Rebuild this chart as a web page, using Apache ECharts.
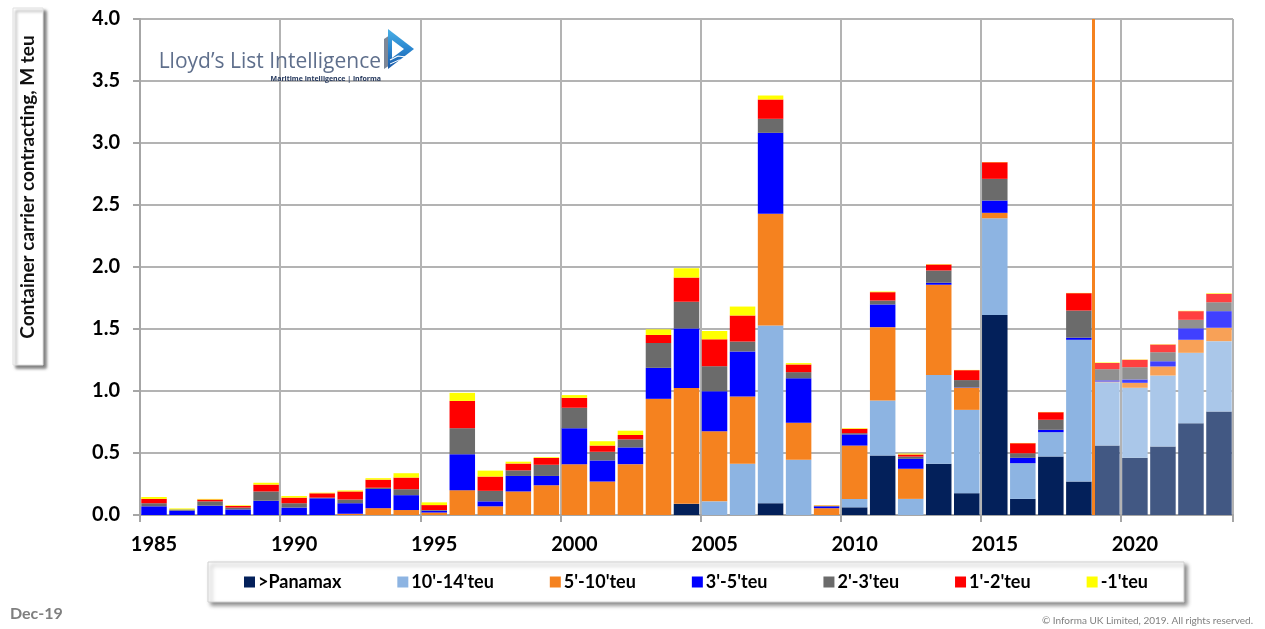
<!DOCTYPE html>
<html>
<head>
<meta charset="utf-8">
<script src="https://cdn.jsdelivr.net/npm/echarts@6/dist/echarts.min.js"></script>
<style>
  html, body { margin: 0; padding: 0; background: #fff; }
  #chart { width: 1265px; height: 629px; }
</style>
</head>
<body>
<div id="chart"></div>
<script>
// Container ship contracting by size band, million TEU
const years = [];
for (let y = 1985; y <= 2023; y++) years.push(String(y));

const firstForecastYear = '2019';

const panamax = [0, 0, 0, 0, 0, 0, 0, 0, 0, 0,
  0, 0, 0, 0, 0, 0, 0, 0, 0, 0.09,
  0, 0, 0.095, 0, 0, 0.062, 0.48, 0, 0.413, 0.176,
  1.613, 0.13, 0.472, 0.27, 0.56, 0.461, 0.552, 0.74, 0.835];

const teu10to14 = [0, 0, 0, 0, 0, 0, 0, 0, 0, 0,
  0, 0, 0, 0, 0, 0, 0, 0, 0, 0,
  0.11, 0.413, 1.433, 0.445, 0, 0.068, 0.443, 0.13, 0.717, 0.672,
  0.78, 0.288, 0.196, 1.143, 0.511, 0.565, 0.573, 0.568, 0.567];

const teu5to10 = [0, 0, 0, 0, 0, 0, 0, 0.01, 0.055, 0.04,
  0.02, 0.2, 0.07, 0.19, 0.24, 0.41, 0.27, 0.41, 0.937, 0.935,
  0.565, 0.543, 0.901, 0.299, 0.055, 0.43, 0.592, 0.243, 0.727, 0.178,
  0.044, 0, 0, 0, 0.005, 0.04, 0.073, 0.105, 0.108];

const teu3to5 = [0.07, 0.035, 0.075, 0.045, 0.115, 0.06, 0.135, 0.085, 0.155, 0.12,
  0.015, 0.29, 0.04, 0.125, 0.075, 0.29, 0.17, 0.135, 0.25, 0.48,
  0.323, 0.363, 0.653, 0.359, 0.015, 0.09, 0.183, 0.08, 0.016, 0.003,
  0.099, 0.043, 0.019, 0.017, 0.01, 0.027, 0.042, 0.093, 0.134];

const teu2to3 = [0.025, 0.01, 0.035, 0.015, 0.075, 0.035, 0.005, 0.03, 0.01, 0.048,
  0.005, 0.21, 0.085, 0.045, 0.09, 0.165, 0.07, 0.065, 0.2, 0.215,
  0.202, 0.08, 0.113, 0.049, 0.003, 0.01, 0.032, 0.018, 0.099, 0.059,
  0.175, 0.037, 0.081, 0.219, 0.09, 0.099, 0.073, 0.068, 0.072];

const teu1to2 = [0.035, 0, 0.015, 0.013, 0.055, 0.045, 0.035, 0.065, 0.065, 0.094,
  0.04, 0.22, 0.115, 0.055, 0.055, 0.08, 0.05, 0.035, 0.065, 0.195,
  0.217, 0.21, 0.156, 0.062, 0.003, 0.035, 0.067, 0.017, 0.048, 0.08,
  0.134, 0.081, 0.061, 0.14, 0.05, 0.06, 0.062, 0.07, 0.068];

const teuUnder1 = [0.015, 0.008, 0.005, 0.005, 0.015, 0.013, 0.005, 0.008, 0.012, 0.035,
  0.022, 0.065, 0.048, 0.015, 0.006, 0.022, 0.035, 0.035, 0.045, 0.075,
  0.067, 0.072, 0.032, 0.011, 0.003, 0.005, 0.005, 0.007, 0.003, 0.002,
  0.002, 0.002, 0.002, 0.002, 0.005, 0.003, 0.003, 0.003, 0.006];

const seriesNames = ['>Panamax', "10'-14'teu", "5'-10'teu", "3'-5'teu", "2'-3'teu", "1'-2'teu", "-1'teu"];
const seriesValues = [panamax, teu10to14, teu5to10, teu3to5, teu2to3, teu1to2, teuUnder1];
const seriesColors = ['#03205a', '#8db4e2', '#f5821f', '#0000ff', '#6b6b6b', '#ff0000', '#ffff00'];

const yTicks = [0, 0.5, 1, 1.5, 2, 2.5, 3, 3.5, 4];

const forecastIndex = years.indexOf(firstForecastYear);
const FONT = 'Lato, "Open Sans", sans-serif';

// outlook years are drawn in a washed-out tint of the band colour
function tint(hex, amount) {
  const n = parseInt(hex.slice(1), 16);
  const ch = [(n >> 16) & 255, (n >> 8) & 255, n & 255]
    .map(c => Math.round(c + (255 - c) * amount));
  return 'rgb(' + ch.join(',') + ')';
}

const barSeries = seriesNames.map((name, i) => ({
  name: name,
  type: 'bar',
  stack: 'total',
  barCategoryGap: '9%',
  itemStyle: { color: seriesColors[i] },
  data: seriesValues[i].map((v, k) => k >= forecastIndex
    ? { value: v, itemStyle: { color: tint(seriesColors[i], 0.25) } }
    : v),
  animation: false
}));

// divider between reported years and outlook
const dividerSeries = {
  name: 'divider',
  type: 'line',
  xAxisIndex: 1,
  data: [],
  silent: true,
  animation: false,
  markLine: {
    silent: true,
    symbol: ['none', 'none'],
    label: { show: false },
    lineStyle: { color: '#f5821f', width: 3, type: 'solid' },
    data: [{ xAxis: forecastIndex }]
  }
};

const chart = echarts.init(document.getElementById('chart'), null, { renderer: 'canvas' });

chart.setOption({
  backgroundColor: '#ffffff',
  animation: false,
  textStyle: { fontFamily: FONT },
  grid: {
    left: 140, right: 32, top: 19, bottom: 114,
    show: true, borderColor: '#a6a6a6', borderWidth: 1,
    containLabel: false
  },
  legend: {
    data: seriesNames,
    left: 208,
    top: 562,
    padding: [11, 36, 11, 36],
    itemGap: 56,
    itemWidth: 11,
    itemHeight: 11,
    icon: 'rect',
    backgroundColor: '#ffffff',
    borderColor: '#d0d0d0',
    borderWidth: 1,
    shadowColor: 'rgba(0,0,0,0.45)',
    shadowBlur: 4,
    shadowOffsetX: 3,
    shadowOffsetY: 3,
    textStyle: { fontFamily: FONT, fontWeight: 'bold', fontSize: 18, color: '#000', padding: [0, 0, 0, -2] }
  },
  xAxis: [{
    type: 'category',
    data: years,
    axisLine: { show: true, lineStyle: { color: '#a6a6a6', width: 2 } },
    axisTick: { show: true, interval: 4, length: 7, lineStyle: { color: '#a6a6a6', width: 2 } },
    axisLabel: { interval: 4, margin: 20, fontFamily: FONT, fontWeight: 'bold', fontSize: 20, color: '#000' },
    splitLine: { show: true, interval: 4, lineStyle: { color: '#b3b3b3', width: 2 } }
  }, {
    type: 'value',
    min: 0,
    max: years.length,
    show: false
  }],
  yAxis: {
    type: 'value',
    min: yTicks[0],
    max: yTicks[yTicks.length - 1],
    interval: 0.5,
    axisLine: { show: true, lineStyle: { color: '#a6a6a6', width: 2 } },
    axisTick: { show: true, length: 7, lineStyle: { color: '#a6a6a6', width: 2 } },
    axisLabel: {
      margin: 20, fontFamily: FONT, fontWeight: 'bold', fontSize: 20, color: '#000',
      formatter: v => v.toFixed(1)
    },
    splitLine: { show: true, lineStyle: { color: '#b3b3b3', width: 2 } }
  },
  series: barSeries.concat([dividerSeries]),
  graphic: [
    // axis title box
    {
      type: 'rect',
      shape: { x: 13, y: 8, width: 30, height: 357 },
      style: { fill: '#ffffff', stroke: '#e0e0e0', lineWidth: 1,
        shadowColor: 'rgba(0,0,0,0.5)', shadowBlur: 3, shadowOffsetX: 3, shadowOffsetY: 3 },
      z: 10
    },
    {
      type: 'text',
      x: 28, y: 187,
      rotation: Math.PI / 2,
      style: {
        text: 'Container carrier contracting, M teu',
        fontFamily: FONT, fontWeight: 'bold', fontSize: 19, fill: '#111',
        align: 'center', verticalAlign: 'middle'
      },
      z: 11
    },
    // logo
    {
      type: 'text',
      x: 381, y: 62,
      style: {
        text: 'Lloyd\u2019s List Intelligence',
        fontFamily: '"Open Sans", sans-serif', fontSize: 21, fill: '#5f6f8c',
        align: 'right', verticalAlign: 'middle'
      },
      z: 10
    },
    {
      type: 'text',
      x: 381, y: 79,
      style: {
        text: 'Maritime intelligence | informa',
        fontFamily: '"Open Sans", sans-serif', fontSize: 7, fontWeight: 'bold', fill: '#24375c',
        align: 'right', verticalAlign: 'middle'
      },
      z: 10
    },
    {
      type: 'polygon',
      shape: { points: [[384, 39], [390, 35], [390, 65], [384, 69]] },
      style: { fill: '#7d8797' },
      z: 10
    },
    {
      type: 'polygon',
      shape: { points: [[388, 29], [414, 49], [388, 69]] },
      style: {
        fill: new echarts.graphic.LinearGradient(0, 0, 0, 1, [
          { offset: 0, color: '#49b0e6' },
          { offset: 0.5, color: '#2a86cf' },
          { offset: 1, color: '#1c5aa6' }
        ])
      },
      z: 10
    },
    {
      type: 'polygon',
      shape: { points: [[392, 40], [404, 49], [392, 58]] },
      style: { fill: '#ffffff' },
      z: 11
    },
    {
      type: 'polyline',
      shape: { points: [[390, 60], [398, 56], [406, 57], [413, 52]] },
      style: { stroke: '#ffffff', lineWidth: 1.2, fill: null },
      z: 12
    },
    {
      type: 'polyline',
      shape: { points: [[390, 64], [399, 60], [405, 61], [411, 56]] },
      style: { stroke: '#ffffff', lineWidth: 1, fill: null },
      z: 12
    },
    // footer
    {
      type: 'text',
      x: 10, y: 614,
      style: {
        text: 'Dec-19',
        fontFamily: FONT, fontWeight: 'bold', fontSize: 16, fill: '#7f7f7f',
        align: 'left', verticalAlign: 'middle'
      }
    },
    {
      type: 'text',
      x: 1253, y: 621,
      style: {
        text: '\u00a9 Informa UK Limited, 2019. All rights reserved.',
        fontFamily: FONT, fontSize: 10, fill: '#808080',
        align: 'right', verticalAlign: 'middle'
      }
    }
  ]
});
</script>
</body>
</html>
